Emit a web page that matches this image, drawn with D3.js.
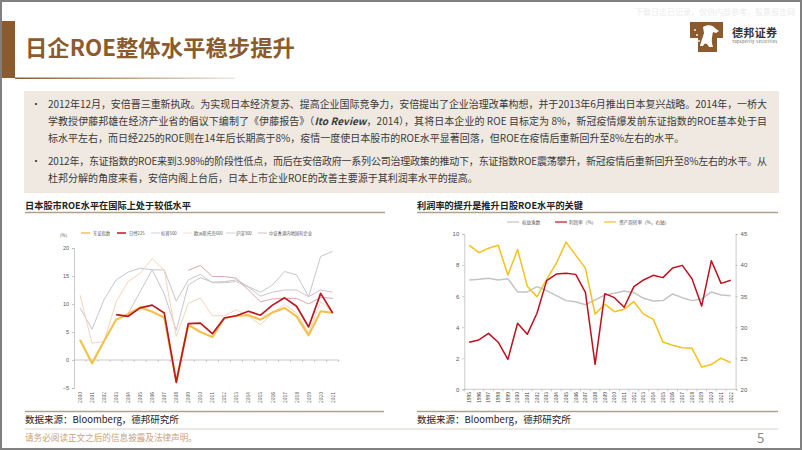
<!DOCTYPE html>
<html><head><meta charset="utf-8">
<script src="https://cdn.jsdelivr.net/npm/d3@7"></script>
<style>
body{margin:0;background:#fff;}
svg{display:block;font-family:"Noto Sans CJK SC","Noto Sans",sans-serif;}
</style>
</head><body><svg id="c" width="802" height="451"></svg>
<script>
// ---------- DATA ----------
const leftYears = ["2000","2001","2002","2003","2004","2005","2006","2007","2008","2009","2010","2011","2012","2013","2014","2015","2016","2017","2018","2019","2020","2021"];
const topix   = [3.6,-0.6,3.4,7.2,8.2,9.4,8.6,7.6,-3.8,6.3,5.0,4.1,7.5,7.9,8.0,7.2,8.5,9.3,7.8,4.4,8.7,8.4];
const nikkei  = [null,null,null,8.1,7.8,9.3,9.8,8.4,-4.0,6.5,6.6,4.7,7.5,7.9,8.7,8.0,9.8,11.1,9.6,5.9,11.9,8.4];
const sp500   = [9.3,5.5,10.8,14.3,15.7,16.4,16.1,11.8,5.3,13.4,14.7,13.9,14.0,14.3,13.1,12.1,13.4,15.8,15.2,11.3,18.5,19.4];
const stoxx600= [11.6,3.0,3.3,10.4,14.0,15.5,18.1,16.0,4.2,10.1,11.1,7.9,7.9,9.0,7.8,6.3,8.4,9.9,8.4,4.8,10.4,8.6];
const csi300  = [null,null,null,null,8.3,12.2,16.1,16.1,10.5,14.3,15.3,13.8,13.8,14.0,13.0,11.4,12.1,12.5,12.5,11.3,12.5,12.1];
const hkSoe   = [null,null,null,null,null,null,null,null,null,16.0,16.9,14.9,14.9,14.6,12.5,10.4,10.9,11.0,11.0,10.0,11.2,11.0];
const leftSeriesNames = ["东证指数","日经225","标普500","欧洲斯托克600","沪深300","中证香港内地国有企业"];
const leftTicks = [-5,0,5,10,15,20];

const rightYears = ["1995","1996","1997","1998","1999","2000","2001","2002","2003","2004","2005","2006","2007","2008","2009","2010","2011","2012","2013","2014","2015","2016","2017","2018","2019","2020","2021","2022"];
const equityMultiplier = [7.04,7.08,7.15,7.04,7.12,6.27,6.27,6.61,6.35,6.03,5.71,5.64,5.45,5.75,6.07,6.18,6.33,6.22,5.86,5.69,5.71,6.14,5.90,5.71,5.82,6.27,6.07,6.03];
const profitMargin = [3.03,3.18,3.60,3.03,1.93,4.25,3.54,4.90,7.00,7.42,7.47,7.40,6.24,1.61,6.16,5.90,5.28,6.61,7.04,7.34,7.19,7.81,7.98,7.12,5.36,8.28,6.82,7.02];
const assetTurnover = [43.2,42.0,42.7,43.2,38.4,42.5,36.6,34.9,37.7,40.3,43.7,41.6,39.5,32.1,33.7,32.5,32.9,34.1,32.1,31.3,27.6,27.1,26.7,26.6,23.6,24.0,25.0,24.3];
const rightSeriesNames = ["权益乘数","利润率（%）","资产周转率（%，右轴）"];
const rightLeftTicks = [0,2,4,6,8,10];
const rightRightTicks = [20,25,30,35,40,45];

// ---------- PAGE ----------
const svg = d3.select("#c");
const BROWN = "#8c5b2d";
svg.append("rect").attr("x",1).attr("y",1).attr("width",800).attr("height",448)
  .attr("fill","#fff").attr("stroke","#808080").attr("stroke-width",2);

const defs = svg.append("defs");
const g1 = defs.append("linearGradient").attr("id","ul").attr("x1","0").attr("x2","1").attr("y1","0").attr("y2","0");
g1.append("stop").attr("offset","0").attr("stop-color",BROWN);
g1.append("stop").attr("offset","1").attr("stop-color","#eee6dc");

// title
svg.append("rect").attr("x",2).attr("y",21).attr("width",13).attr("height",57).attr("fill",BROWN);
svg.append("text").attr("x",25).attr("y",56).attr("font-size",22).attr("font-weight","bold")
  .attr("fill",BROWN).attr("textLength",270).attr("lengthAdjust","spacingAndGlyphs")
  .text("日企ROE整体水平稳步提升");
svg.append("rect").attr("x",15).attr("y",77.5).attr("width",220).attr("height",1.5).attr("fill","url(#ul)");

// watermark
svg.append("text").attr("x",635).attr("y",15).attr("font-size",8).attr("fill","#ececec")
  .text("下载日志已记录，仅供内部参考，股票报告网");

// logo
svg.append("path").attr("d","M690,22 H723 V38 H717 V52 H698 V38 H690 Z").attr("fill",BROWN);
svg.append("path").attr("d","M703,27 C708,24 713,25 716,29 L719,31 L716,33 L713,32 C712,37 711,41 713,47 L709,47 C707,43 705,42 703,46 L700,46 C701,41 703,37 704,33 Z")
  .attr("fill","#fff");
[[695,30],[697,35],[694,40],[699,41]].forEach(p=>svg.append("circle").attr("cx",p[0]).attr("cy",p[1]).attr("r",0.9).attr("fill","#fff"));
svg.append("text").attr("x",732).attr("y",37).attr("font-size",11).attr("font-weight","bold").attr("fill","#333")
  .attr("textLength",45).text("德邦证券");
svg.append("text").attr("x",732).attr("y",43).attr("font-size",3.8).attr("fill","#555").attr("textLength",45)
  .text("Topsperity Securities");

// text box
svg.append("rect").attr("x",24).attr("y",91).attr("width",755).attr("height",102).attr("fill","#efe9e2");
const lines = [
  {y:108, len:719, bullet:true, parts:[["2012年12月，安倍晋三重新执政。为实现日本经济复苏、提高企业国际竞争力，安倍提出了企业治理改革构想，并于2013年6月推出日本复兴战略。2014年，一桥大",false]]},
  {y:125, len:719, parts:[["学教授伊藤邦雄在经济产业省的倡议下编制了《伊藤报告》（",false],["Ito Review",true],["，2014），其将日本企业的 ROE 目标定为 8%，新冠疫情爆发前东证指数的ROE基本处于目",false]]},
  {y:142, len:null, parts:[["标水平左右，而日经225的ROE则在14年后长期高于8%，疫情一度使日本股市的ROE水平显著回落，但ROE在疫情后重新回升至8%左右的水平。",false]]},
  {y:165, len:719, bullet:true, parts:[["2012年，东证指数的ROE来到3.98%的阶段性低点，而后在安倍政府一系列公司治理政策的推动下，东证指数ROE震荡攀升，新冠疫情后重新回升至8%左右的水平。从",false]]},
  {y:182, len:null, parts:[["杜邦分解的角度来看，安倍内阁上台后，日本上市企业ROE的改善主要源于其利润率水平的提高。",false]]}
];
lines.forEach(l=>{
  if(l.bullet) svg.append("text").attr("x",31).attr("y",l.y).attr("font-size",10).attr("fill","#333").text("•");
  const t = svg.append("text").attr("x",48).attr("y",l.y).attr("font-size",10).attr("fill","#3a3a3a");
  if(l.len) t.attr("textLength",l.len).attr("lengthAdjust","spacing");
  l.parts.forEach(p=>t.append("tspan").attr("font-style",p[1]?"italic":"normal").attr("font-weight",p[1]?"bold":"normal").text(p[0]));
});

// chart titles
function chartTitle(x, x2, text){
  svg.append("text").attr("x",x).attr("y",209).attr("font-size",9.5).attr("font-weight","bold").attr("fill","#222")
    .attr("textLength",166).attr("lengthAdjust","spacingAndGlyphs").text(text);
  svg.append("line").attr("x1",x).attr("x2",x2).attr("y1",212.5).attr("y2",212.5).attr("stroke","#b0a08c").attr("stroke-width",1.6);
}
chartTitle(25,385,"日本股市ROE水平在国际上处于较低水平");
chartTitle(417,778,"利润率的提升是推升日股ROE水平的关键");

// ---------- LEFT CHART ----------
const xL = d3.scaleBand().domain(leftYears).range([74,338.7]).padding(0);
const yL = d3.scaleLinear().domain([-5,20]).range([388,248]);
const gL = svg.append("g");
const axL = gL.append("g").attr("transform","translate(74,0)")
  .call(d3.axisLeft(yL).tickValues(leftTicks).tickSize(2).tickPadding(3).tickFormat(d3.format("d")));
axL.selectAll("text").attr("font-size",5.5).attr("fill","#595959");
axL.selectAll("line,path").attr("stroke","#a6a6a6").attr("stroke-width",0.6);
gL.append("line").attr("x1",xL.range()[0]).attr("x2",xL.range()[1]).attr("y1",yL(0)).attr("y2",yL(0))
  .attr("stroke","#a6a6a6").attr("stroke-width",0.6);
gL.selectAll(".xt").data(leftYears).enter().append("line")
  .attr("x1",d=>xL(d)+xL.bandwidth()).attr("x2",d=>xL(d)+xL.bandwidth())
  .attr("y1",yL(0)).attr("y2",yL(0)+2).attr("stroke","#a6a6a6").attr("stroke-width",0.6);
gL.selectAll(".xl").data(leftYears).enter().append("text")
  .attr("transform",d=>`translate(${xL(d)+xL.bandwidth()/2+2},392) rotate(-90)`)
  .attr("text-anchor","end").attr("font-size",5).attr("fill","#595959").text(d=>d);
gL.append("text").attr("x",60).attr("y",237).attr("font-size",4.5).attr("fill","#595959").text("(%)");

const leftSeries = [
  {vals:sp500, color:"#c3c7cf", w:1},
  {vals:csi300, color:"#cfc5c5", w:1},
  {vals:stoxx600, color:"#f6d3bb", w:1},
  {vals:hkSoe, color:"#d9a6ae", w:1},
  {vals:topix, color:"#f3c24e", w:2.2},
  {vals:nikkei, color:"#be1622", w:1.7}
];
const lineL = d3.line().defined(d=>d.v!==null).x(d=>xL(d.k)+xL.bandwidth()/2).y(d=>yL(d.v));
leftSeries.forEach(s=>{
  gL.append("path").datum(leftYears.map((k,i)=>({k:k,v:s.vals[i]})))
    .attr("d",lineL).attr("fill","none").attr("stroke",s.color).attr("stroke-width",s.w).attr("stroke-linejoin","round");
});
// legend left
const legL = [
  {x:81, tx:93, color:"#f3c24e", w:1.5},
  {x:117, tx:129, color:"#be1622", w:1.5},
  {x:151, tx:161, color:"#c3c7cf", w:0.8},
  {x:183, tx:194, color:"#f6d3bb", w:0.8},
  {x:226, tx:236, color:"#cfc5c5", w:0.8},
  {x:258, tx:269, color:"#d9a6ae", w:0.8}
];
legL.forEach((l,i)=>{
  gL.append("line").attr("x1",l.x).attr("x2",l.x+9).attr("y1",233).attr("y2",233).attr("stroke",l.color).attr("stroke-width",l.w);
  gL.append("text").attr("x",l.tx).attr("y",234.6).attr("font-size",4.3).attr("fill","#595959").text(leftSeriesNames[i]);
});

// ---------- RIGHT CHART ----------
const xR = d3.scaleBand().domain(rightYears).range([464.3,735.6]).padding(0);
const yRL = d3.scaleLinear().domain([0,10]).range([389.3,234]);
const yRR = d3.scaleLinear().domain([20,45]).range([389.3,234]);
const gR = svg.append("g");
const axRL = gR.append("g").attr("transform","translate(464.3,0)")
  .call(d3.axisLeft(yRL).tickValues(rightLeftTicks).tickSize(2).tickPadding(3));
const axRR = gR.append("g").attr("transform","translate(735.6,0)")
  .call(d3.axisRight(yRR).tickValues(rightRightTicks).tickSize(2).tickPadding(3));
[axRL,axRR].forEach(a=>{
  a.selectAll("text").attr("font-size",6).attr("fill","#595959");
  a.selectAll("line,path").attr("stroke","#a6a6a6").attr("stroke-width",0.6);
});
gR.append("line").attr("x1",xR.range()[0]).attr("x2",xR.range()[1]).attr("y1",yRL(0)).attr("y2",yRL(0))
  .attr("stroke","#a6a6a6").attr("stroke-width",0.6);
gR.selectAll(".xt").data(rightYears).enter().append("line")
  .attr("x1",d=>xR(d)).attr("x2",d=>xR(d)).attr("y1",yRL(0)).attr("y2",yRL(0)+2).attr("stroke","#a6a6a6").attr("stroke-width",0.6);
gR.selectAll(".xl").data(rightYears).enter().append("text")
  .attr("transform",d=>`translate(${xR(d)+xR.bandwidth()/2+1.8},392) rotate(-90)`)
  .attr("text-anchor","end").attr("font-size",5).attr("fill","#404040").text(d=>d);

const rightSeries = [
  {vals:equityMultiplier, y:yRL, color:"#c4c4c4"},
  {vals:assetTurnover, y:yRR, color:"#f5c21b"},
  {vals:profitMargin, y:yRL, color:"#c00f1d"}
];
rightSeries.forEach(s=>{
  const ln = d3.line().x(d=>xR(d.k)+xR.bandwidth()/2).y(d=>s.y(d.v));
  gR.append("path").datum(rightYears.map((k,i)=>({k:k,v:s.vals[i]})))
    .attr("d",ln).attr("fill","none").attr("stroke",s.color).attr("stroke-width",1.5).attr("stroke-linejoin","round");
});
const legR = [
  {x:507, tx:522, color:"#c4c4c4"},
  {x:555, tx:569, color:"#c00f1d"},
  {x:604, tx:619, color:"#f5c21b"}
];
legR.forEach((l,i)=>{
  gR.append("line").attr("x1",l.x).attr("x2",l.x+12).attr("y1",222).attr("y2",222).attr("stroke",l.color).attr("stroke-width",1.2);
  gR.append("text").attr("x",l.tx).attr("y",223.7).attr("font-size",4.6).attr("fill","#595959").text(rightSeriesNames[i]);
});

// ---------- FOOTER ----------
svg.append("line").attr("x1",25).attr("x2",384).attr("y1",411.5).attr("y2",411.5).attr("stroke","#b0a08c").attr("stroke-width",1.4);
svg.append("line").attr("x1",417).attr("x2",778).attr("y1",411.5).attr("y2",411.5).attr("stroke","#b0a08c").attr("stroke-width",1.4);
svg.append("text").attr("x",25).attr("y",423).attr("font-size",9.5).attr("fill","#222").text("数据来源：Bloomberg，德邦研究所");
svg.append("text").attr("x",417).attr("y",423).attr("font-size",9.5).attr("fill","#222").text("数据来源：Bloomberg，德邦研究所");
svg.append("line").attr("x1",25).attr("x2",778).attr("y1",429).attr("y2",429).attr("stroke","#d9d2ca").attr("stroke-width",1.2);
svg.append("text").attr("x",25).attr("y",441).attr("font-size",8.6).attr("fill","#c9a27a").text("请务必阅读正文之后的信息披露及法律声明。");
svg.append("text").attr("x",757).attr("y",443).attr("font-size",13).attr("fill","#8a8a8a").text("5");
</script></body></html>
